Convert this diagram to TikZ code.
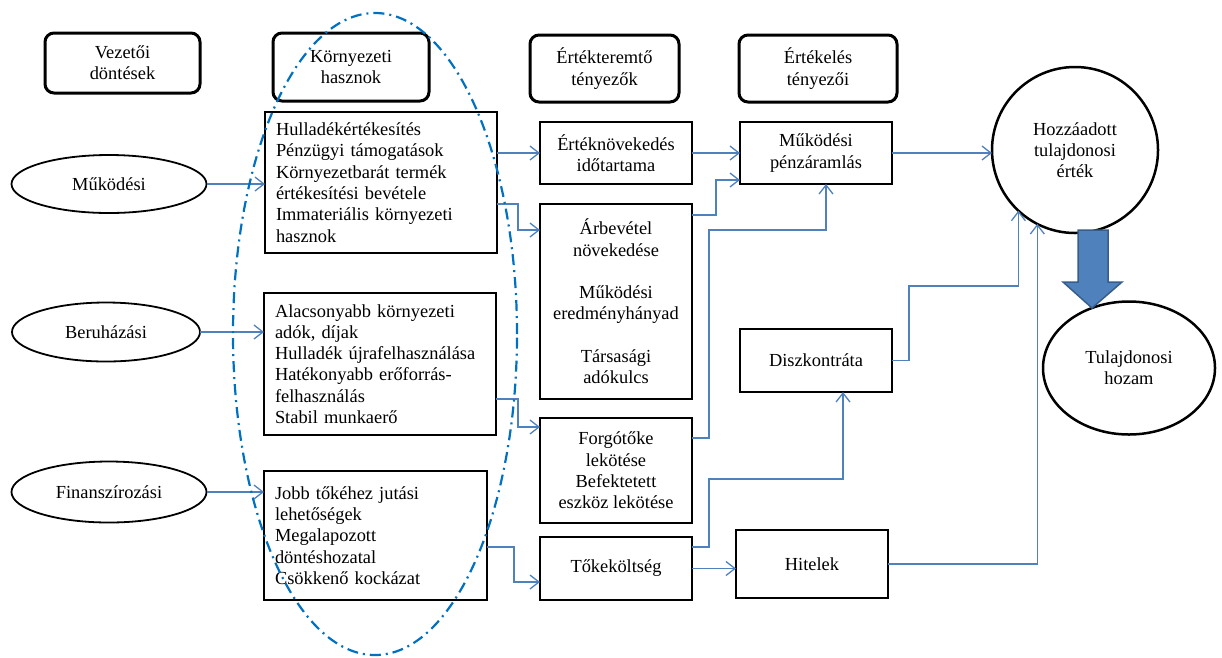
\documentclass[tikz,border=0pt]{standalone}
\usepackage{fontspec}
\setmainfont{Liberation Serif}
\usepackage{xcolor}
\usepackage{tikz}
\usetikzlibrary{shapes.geometric, arrows.meta, calc}
\definecolor{linkblue}{RGB}{79,129,189}
\definecolor{ovalblue}{RGB}{0,112,192}
\definecolor{arrowedge}{RGB}{56,93,138}

\begin{document}
\begin{tikzpicture}[x=1pt,y=-1pt,
  every node/.style={font=\fontsize{18.4}{21.3}\selectfont, inner sep=0pt, outer sep=0pt},
  head/.style={draw, line width=3pt, rounded corners=9pt, align=center},
  box/.style={draw, line width=1.6pt, align=center, minimum width=152pt},
  list/.style={draw, line width=1.6pt, align=left, inner xsep=11pt, text width=#1},
  oval/.style={draw, ellipse, line width=1.8pt, align=center},
  link/.style={linkblue, line width=1.3pt, -{Straight Barb[length=9pt,width=14pt]}}]
\useasboundingbox (0,0) rectangle (1222,657);

\node[head, minimum width=155pt, minimum height=60pt] (veze) at (122.5,63) {Vezetői\\döntések};
\node[head, minimum width=156pt, minimum height=68pt] (korny) at (351,67) {Környezeti\\hasznok};
\node[head, minimum width=149pt, minimum height=67pt] (ertt) at (604.5,68.5) {Értékteremtő\\tényezők};
\node[head, minimum width=158pt, minimum height=67pt] (ertk) at (818,68.5) {Értékelés\\tényezői};

\node[oval, minimum width=195pt, minimum height=58pt] (mukd) at (109,184) {Működési};
\node[oval, minimum width=188pt, minimum height=59pt] (beru) at (106,332) {Beruházási};
\node[oval, minimum width=195pt, minimum height=61pt] (fin) at (109,492) {Finanszírozási};

\node[list=210pt, minimum height=141pt] (k1) at (381,182.5) {Hulladékértékesítés\\Pénzügyi támogatások\\Környezetbarát termék\\értékesítési bevétele\\Immateriális környezeti\\hasznok};
\node[list=210pt, minimum height=142pt] (k2) at (380,364) {Alacsonyabb környezeti\\adók, díjak\\Hulladék újrafelhasználása\\Hatékonyabb erőforrás-\\felhasználás\\Stabil munkaerő};
\node[list=201pt, minimum height=129pt] (k3) at (375.5,535.5) {Jobb tőkéhez jutási\\lehetőségek\\Megalapozott\\döntéshozatal\\Csökkenő kockázat};

\node[box, minimum height=62pt] (ido) at (616,153) {Értéknövekedés\\időtartama};
\node[box, minimum height=195pt] (arb) at (616,301.5) {Árbevétel\\növekedése\\[21.3pt]Működési\\eredményhányad\\[21.3pt]Társasági\\adókulcs};
\node[box, minimum height=105pt] (forg) at (616,470.5) {Forgótőke\\lekötése\\Befektetett\\eszköz lekötése};
\node[box, minimum height=63pt] (toke) at (616,568.5) {Tőkeköltség};

\node[box, minimum height=62pt] (penz) at (816,153) {Működési\\pénzáramlás};
\node[box, minimum height=63pt] (disz) at (816,360.5) {Diszkontráta};
\node[box, minimum height=68pt] (hit) at (812,564) {Hitelek};

\node[draw, circle, line width=2.5pt, minimum size=166pt, align=center] (hoz) at (1075,150) {Hozzáadott\\tulajdonosi\\érték};
\node[oval, line width=2.5pt, minimum width=172pt, minimum height=133pt] (tul) at (1129,368) {Tulajdonosi\\hozam};

\draw[link] (mukd.east) -- (k1.west |- mukd.east);
\draw[link] (beru.east) -- (k2.west |- beru.east);
\draw[link] (fin.east) -- (k3.west |- fin.east);

\draw[link] (k1.east |- ido.west) -- (ido.west);
\draw[link] (k1.east |- arb.north) -- ++(21,0) |- ($(arb.north west)+(0,26)$);
\draw[link] (k2.east |- 0,399) -- ++(22,0) |- ($(forg.north west)+(0,9)$);
\draw[link] (k3.east |- 0,547) -- ++(27,0) |- ($(toke.south west)+(0,-18)$);

\draw[link] (ido.east) -- (penz.west);
\draw[link] (arb.east |- 0,215) -- ++(24,0) |- ($(penz.south west)+(0,-4)$);
\draw[link] (forg.east |- 0,438) -- ++(17,0) |- ($(penz.south)+(10,46)$) -- ($(penz.south)+(10,0)$);
\draw[link] (toke.east |- 0,547) -- ++(17,0) |- ($(disz.south)+(27,87)$) -- ($(disz.south)+(27,0)$);
\draw[link] (toke.east) -- (hit.west |- toke.east);

\draw[link] (penz.east) -- (hoz.west |- penz.east);
\draw[link] (disz.east) -- ++(17,0) |- (hoz.227 |- 0,286) -- (hoz.227);
\draw[link] (hit.east) -| (hoz.243);

\filldraw[fill=linkblue, draw=arrowedge, line width=1.5pt] (1078,230) -- (1108,230) -- (1108,282) -- (1122,282) -- (1092,308) -- (1063,282) -- (1078,282) -- cycle;

\draw[ovalblue, line width=2.2pt, dash pattern=on 11pt off 5pt on 2pt off 5pt] (375,334) ellipse [x radius=142pt, y radius=321pt];
\end{tikzpicture}
\end{document}
